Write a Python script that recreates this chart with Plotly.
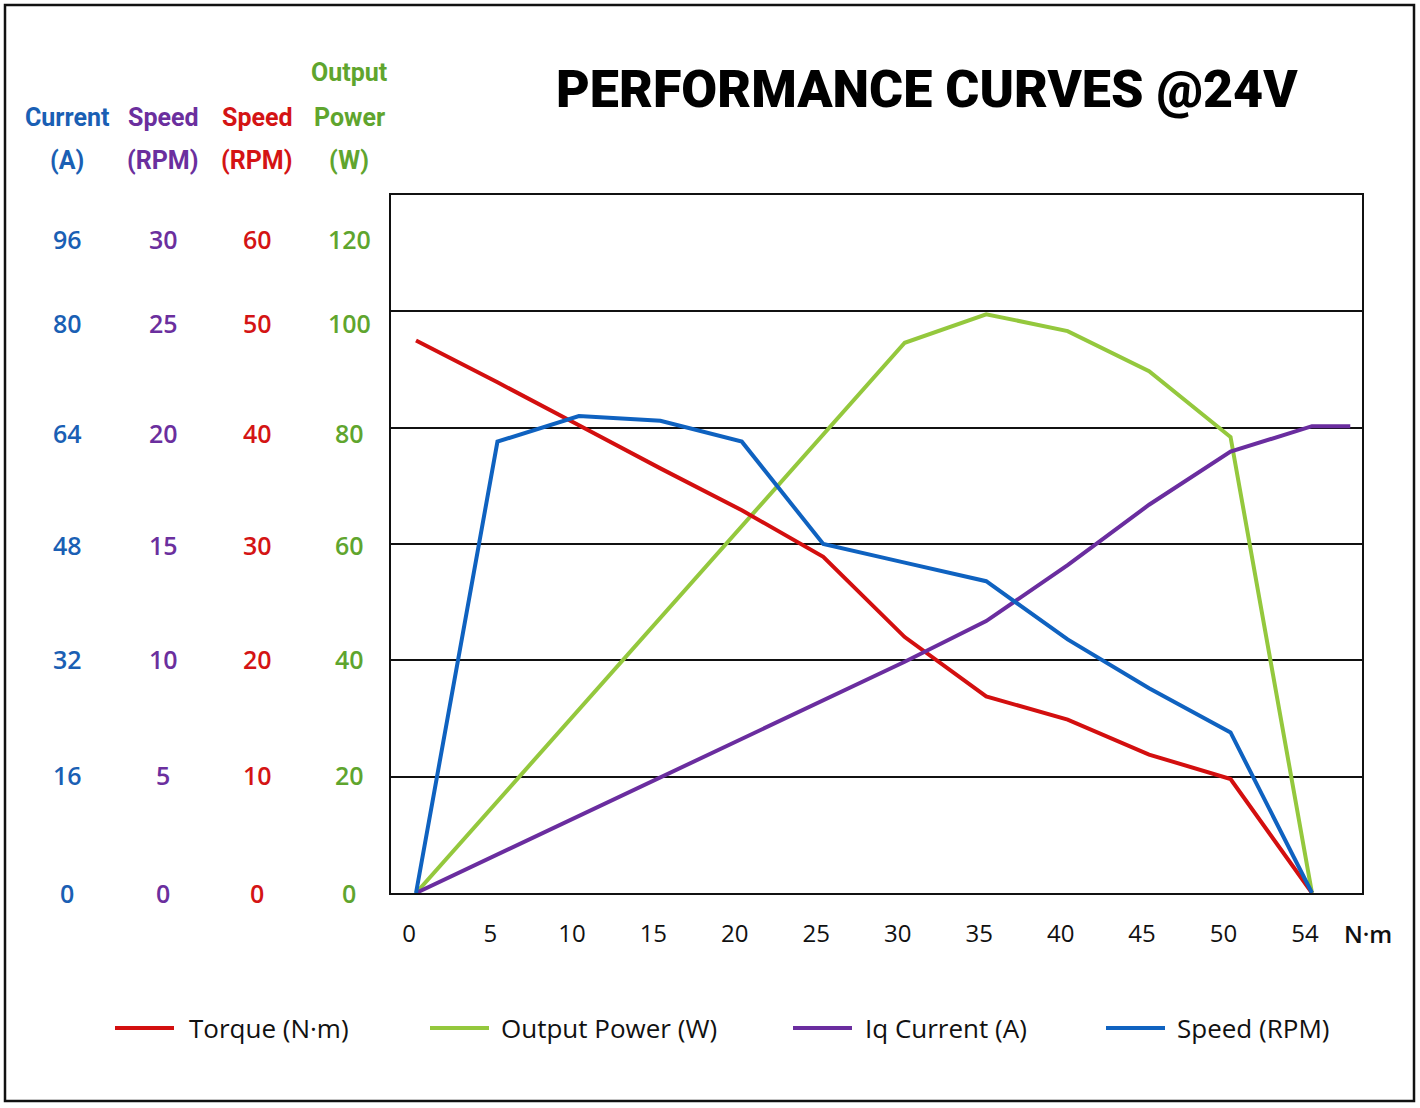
import plotly.graph_objects as go

# ---------------- data ----------------
torque_labels = ["0", "5", "10", "15", "20", "25", "30", "35", "40", "45", "50", "54"]
torque_pos = list(range(len(torque_labels)))

torque_vals = [47.5, 43.9, 40.2, 36.5, 32.9, 28.9, 22.0, 16.9, 14.9, 11.9, 9.8, 0]        # red axis (0-60)
power_vals = [0, 15.8, 31.5, 47.3, 63.1, 78.8, 94.6, 99.5, 96.6, 89.7, 78.4, 0]           # W (0-120)
current_vals = [0, 5.3, 10.6, 15.9, 21.2, 26.5, 31.8, 37.4, 45.1, 53.4, 60.7, 64.2, 64.2]  # A (0-96)
current_pos = torque_pos + [11.47]
speed_vals = [0, 19.4, 20.5, 20.3, 19.4, 15.0, 14.2, 13.4, 10.9, 8.8, 6.9, 0]              # RPM (0-30)

current_ticks = ["0", "16", "32", "48", "64", "80", "96"]
speed_ticks = ["0", "5", "10", "15", "20", "25", "30"]
speed2_ticks = ["0", "10", "20", "30", "40", "50", "60"]
power_ticks = ["0", "20", "40", "60", "80", "100", "120"]

# ---------------- styles ----------------
RED, GREEN, PURPLE, BLUE = "#d30f0f", "#94c83d", "#6a2d9f", "#0f62c0"
T_RED, T_GREEN, T_PURPLE, T_BLUE = "#d41414", "#5fa52e", "#6b2f9e", "#1a5fb4"
NARROW = "Roboto, Liberation Sans Narrow, sans-serif"
BODY = "Open Sans, Noto Sans, sans-serif"

L, R, T, B = 391, 1362, 195, 893


def px(x):
    return (x - L) / (R - L)


def py(y):
    return (B - y) / (B - T)


fig = go.Figure()
fig.add_trace(go.Scatter(x=torque_pos, y=torque_vals, yaxis="y2", mode="lines",
                         line=dict(color=RED, width=4), name="Torque (N·m)"))
fig.add_trace(go.Scatter(x=torque_pos, y=power_vals, yaxis="y", mode="lines",
                         line=dict(color=GREEN, width=4), name="Output Power (W)"))
fig.add_trace(go.Scatter(x=current_pos, y=current_vals, yaxis="y3", mode="lines",
                         line=dict(color=PURPLE, width=4), name="Iq Current (A)"))
fig.add_trace(go.Scatter(x=torque_pos, y=speed_vals, yaxis="y4", mode="lines",
                         line=dict(color=BLUE, width=4), name="Speed (RPM)"))

annotations = []
# title
annotations.append(dict(x=px(927), y=py(90), xref="paper", yref="paper",
                        text="PERFORMANCE CURVES @24V", showarrow=False,
                        font=dict(family=NARROW, size=52, color="#000000", weight=900),
                        xanchor="center", yanchor="middle"))

# left axis headers and tick labels
columns = [
    (67, ["Current", "(A)"], current_ticks, T_BLUE),
    (163, ["Speed", "(RPM)"], speed_ticks, T_PURPLE),
    (257, ["Speed", "(RPM)"], speed2_ticks, T_RED),
    (349, ["Output", "Power", "(W)"], power_ticks, T_GREEN),
]
header_rows = [160, 117, 73]
label_rows = [893, 775, 659, 545, 433, 323, 239]
for cx, header, ticks, col in columns:
    for i, line in enumerate(reversed(header)):
        annotations.append(dict(x=px(cx), y=py(header_rows[i]), xref="paper", yref="paper",
                                text=line, showarrow=False,
                                font=dict(family=NARROW, size=25, color=col, weight="bold"),
                                xanchor="center", yanchor="middle"))
    for lab, ry in zip(ticks, label_rows):
        annotations.append(dict(x=px(cx), y=py(ry), xref="paper", yref="paper",
                                text=lab, showarrow=False,
                                font=dict(family=BODY, size=25, color=col, weight=600),
                                xanchor="center", yanchor="middle"))

# x unit
annotations.append(dict(x=px(1368), y=py(933), xref="paper", yref="paper", text="N·m",
                        showarrow=False, font=dict(family=BODY, size=24, color="#111111", weight=600),
                        xanchor="center", yanchor="middle"))

# manual legend
shapes = []
legend_items = [(115, 187, "Torque (N·m)", RED), (430, 499, "Output Power (W)", GREEN),
                (793, 863, "Iq Current (A)", PURPLE), (1106, 1175, "Speed (RPM)", BLUE)]
for lx, tx, name, col in legend_items:
    shapes.append(dict(type="line", xref="paper", yref="paper", x0=px(lx), x1=px(lx + 59),
                       y0=py(1028), y1=py(1028), line=dict(color=col, width=4)))
    annotations.append(dict(x=px(tx), y=py(1028), xref="paper", yref="paper", text=name,
                            showarrow=False, font=dict(family=BODY, size=26, color="#111111"),
                            xanchor="left", yanchor="middle"))

# outer frame
shapes.append(dict(type="rect", xref="paper", yref="paper", x0=px(5), x1=px(1414),
                   y0=py(1101), y1=py(5), line=dict(color="#111111", width=2.5)))

fig.update_layout(
    width=1420, height=1108, autosize=False,
    margin=dict(l=L, r=1420 - R, t=T, b=1108 - B),
    paper_bgcolor="white", plot_bgcolor="white",
    showlegend=False,
    xaxis=dict(range=[-0.307, 11.614], tickvals=torque_pos, ticktext=torque_labels,
               showgrid=False, zeroline=False, showline=True, mirror=True,
               linecolor="#111111", linewidth=2, ticks="",
               tickfont=dict(family=BODY, size=24, color="#111111"),
               ticklabelshift=-7, ticklabelstandoff=18),
    yaxis=dict(range=[0, 120], tickvals=[20, 40, 60, 80, 100], showticklabels=False,
               showgrid=True, gridcolor="#111111", gridwidth=1.8, zeroline=False,
               showline=True, mirror=True, linecolor="#111111", linewidth=2, ticks=""),
    yaxis2=dict(range=[0, 60], overlaying="y", visible=False),
    yaxis3=dict(range=[0, 96], overlaying="y", visible=False),
    yaxis4=dict(range=[0, 30], overlaying="y", visible=False),
    annotations=annotations, shapes=shapes,
)

fig.write_html("out.html")
